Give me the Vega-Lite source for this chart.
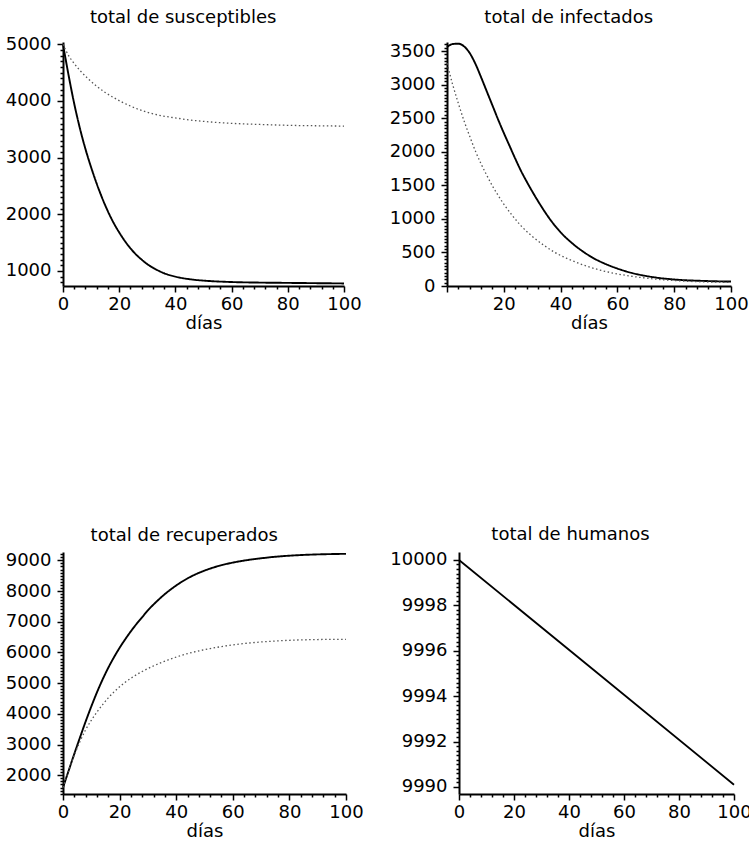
{
  "$schema": "https://vega.github.io/schema/vega-lite/v6.json",
  "background": "white",
  "padding": {"left": 5, "top": 9, "right": 5, "bottom": 5},
  "config": {
    "view": {"stroke": null},
    "axis": {"domainColor": "black", "domainWidth": 2, "tickColor": "black", "tickWidth": 1.5, "grid": false, "labelFont": "DejaVu Sans", "labelFontSize": 18, "labelColor": "black", "labelPadding": 3, "labelOverlap": false, "labelFlush": false, "titleFont": "DejaVu Sans", "titleFontSize": 18, "titleFontWeight": "normal", "titleColor": "black", "titlePadding": 1},
    "title": {"font": "DejaVu Sans", "fontSize": 18, "fontWeight": "normal", "color": "black", "anchor": "middle", "frame": "bounds"},
    "line": {"interpolate": "monotone"}
  },
  "datasets": {
    "sus": [
      {"t": 0, "v": 5000, "s": "a"}, {"t": 2, "v": 4450, "s": "a"}, {"t": 4, "v": 3950, "s": "a"}, {"t": 6, "v": 3520, "s": "a"}, {"t": 8, "v": 3150, "s": "a"}, {"t": 10, "v": 2830, "s": "a"}, {"t": 12, "v": 2540, "s": "a"}, {"t": 14, "v": 2280, "s": "a"}, {"t": 16, "v": 2050, "s": "a"}, {"t": 18, "v": 1850, "s": "a"}, {"t": 20, "v": 1680, "s": "a"}, {"t": 22, "v": 1530, "s": "a"}, {"t": 24, "v": 1400, "s": "a"}, {"t": 26, "v": 1290, "s": "a"}, {"t": 28, "v": 1200, "s": "a"}, {"t": 30, "v": 1120, "s": "a"}, {"t": 33, "v": 1030, "s": "a"}, {"t": 36, "v": 960, "s": "a"}, {"t": 40, "v": 900, "s": "a"}, {"t": 45, "v": 855, "s": "a"}, {"t": 50, "v": 830, "s": "a"}, {"t": 55, "v": 815, "s": "a"}, {"t": 60, "v": 805, "s": "a"}, {"t": 70, "v": 795, "s": "a"}, {"t": 80, "v": 790, "s": "a"}, {"t": 90, "v": 785, "s": "a"}, {"t": 100, "v": 780, "s": "a"},
      {"t": 0, "v": 5000, "s": "b"}, {"t": 2, "v": 4800, "s": "b"}, {"t": 4, "v": 4660, "s": "b"}, {"t": 6, "v": 4540, "s": "b"}, {"t": 9, "v": 4390, "s": "b"}, {"t": 12, "v": 4260, "s": "b"}, {"t": 15, "v": 4150, "s": "b"}, {"t": 18, "v": 4060, "s": "b"}, {"t": 21, "v": 3980, "s": "b"}, {"t": 24, "v": 3910, "s": "b"}, {"t": 27, "v": 3850, "s": "b"}, {"t": 30, "v": 3800, "s": "b"}, {"t": 35, "v": 3740, "s": "b"}, {"t": 40, "v": 3700, "s": "b"}, {"t": 45, "v": 3665, "s": "b"}, {"t": 50, "v": 3640, "s": "b"}, {"t": 55, "v": 3620, "s": "b"}, {"t": 60, "v": 3605, "s": "b"}, {"t": 70, "v": 3585, "s": "b"}, {"t": 80, "v": 3570, "s": "b"}, {"t": 90, "v": 3562, "s": "b"}, {"t": 100, "v": 3556, "s": "b"}
    ],
    "inf": [
      {"t": 0, "v": 3560, "s": "a"}, {"t": 2, "v": 3605, "s": "a"}, {"t": 4, "v": 3610, "s": "a"}, {"t": 6, "v": 3570, "s": "a"}, {"t": 8, "v": 3470, "s": "a"}, {"t": 10, "v": 3310, "s": "a"}, {"t": 12, "v": 3110, "s": "a"}, {"t": 14, "v": 2900, "s": "a"}, {"t": 16, "v": 2690, "s": "a"}, {"t": 18, "v": 2480, "s": "a"}, {"t": 20, "v": 2280, "s": "a"}, {"t": 22, "v": 2090, "s": "a"}, {"t": 24, "v": 1900, "s": "a"}, {"t": 26, "v": 1720, "s": "a"}, {"t": 28, "v": 1560, "s": "a"}, {"t": 30, "v": 1410, "s": "a"}, {"t": 33, "v": 1200, "s": "a"}, {"t": 36, "v": 1010, "s": "a"}, {"t": 40, "v": 800, "s": "a"}, {"t": 44, "v": 640, "s": "a"}, {"t": 48, "v": 510, "s": "a"}, {"t": 52, "v": 405, "s": "a"}, {"t": 56, "v": 325, "s": "a"}, {"t": 60, "v": 260, "s": "a"}, {"t": 65, "v": 195, "s": "a"}, {"t": 70, "v": 150, "s": "a"}, {"t": 75, "v": 118, "s": "a"}, {"t": 80, "v": 97, "s": "a"}, {"t": 85, "v": 84, "s": "a"}, {"t": 90, "v": 76, "s": "a"}, {"t": 95, "v": 70, "s": "a"}, {"t": 100, "v": 66, "s": "a"},
      {"t": 0, "v": 3320, "s": "b"}, {"t": 2, "v": 3000, "s": "b"}, {"t": 4, "v": 2720, "s": "b"}, {"t": 6, "v": 2460, "s": "b"}, {"t": 8, "v": 2230, "s": "b"}, {"t": 10, "v": 2010, "s": "b"}, {"t": 12, "v": 1820, "s": "b"}, {"t": 14, "v": 1650, "s": "b"}, {"t": 16, "v": 1490, "s": "b"}, {"t": 18, "v": 1350, "s": "b"}, {"t": 20, "v": 1220, "s": "b"}, {"t": 23, "v": 1050, "s": "b"}, {"t": 26, "v": 900, "s": "b"}, {"t": 30, "v": 740, "s": "b"}, {"t": 34, "v": 610, "s": "b"}, {"t": 38, "v": 500, "s": "b"}, {"t": 42, "v": 415, "s": "b"}, {"t": 46, "v": 345, "s": "b"}, {"t": 50, "v": 285, "s": "b"}, {"t": 55, "v": 225, "s": "b"}, {"t": 60, "v": 180, "s": "b"}, {"t": 65, "v": 145, "s": "b"}, {"t": 70, "v": 118, "s": "b"}, {"t": 75, "v": 97, "s": "b"}, {"t": 80, "v": 82, "s": "b"}, {"t": 85, "v": 70, "s": "b"}, {"t": 90, "v": 62, "s": "b"}, {"t": 95, "v": 57, "s": "b"}, {"t": 100, "v": 54, "s": "b"}
    ],
    "rec": [
      {"t": 0, "v": 1600, "s": "a"}, {"t": 2, "v": 2150, "s": "a"}, {"t": 4, "v": 2700, "s": "a"}, {"t": 6, "v": 3230, "s": "a"}, {"t": 8, "v": 3750, "s": "a"}, {"t": 10, "v": 4240, "s": "a"}, {"t": 12, "v": 4700, "s": "a"}, {"t": 14, "v": 5120, "s": "a"}, {"t": 16, "v": 5500, "s": "a"}, {"t": 18, "v": 5840, "s": "a"}, {"t": 20, "v": 6150, "s": "a"}, {"t": 22, "v": 6430, "s": "a"}, {"t": 24, "v": 6690, "s": "a"}, {"t": 26, "v": 6930, "s": "a"}, {"t": 28, "v": 7150, "s": "a"}, {"t": 30, "v": 7370, "s": "a"}, {"t": 33, "v": 7650, "s": "a"}, {"t": 36, "v": 7900, "s": "a"}, {"t": 40, "v": 8180, "s": "a"}, {"t": 44, "v": 8410, "s": "a"}, {"t": 48, "v": 8590, "s": "a"}, {"t": 52, "v": 8730, "s": "a"}, {"t": 56, "v": 8840, "s": "a"}, {"t": 60, "v": 8925, "s": "a"}, {"t": 65, "v": 9005, "s": "a"}, {"t": 70, "v": 9065, "s": "a"}, {"t": 75, "v": 9115, "s": "a"}, {"t": 80, "v": 9150, "s": "a"}, {"t": 85, "v": 9175, "s": "a"}, {"t": 90, "v": 9192, "s": "a"}, {"t": 95, "v": 9203, "s": "a"}, {"t": 100, "v": 9210, "s": "a"},
      {"t": 0, "v": 1600, "s": "b"}, {"t": 2, "v": 2150, "s": "b"}, {"t": 4, "v": 2660, "s": "b"}, {"t": 6, "v": 3100, "s": "b"}, {"t": 8, "v": 3480, "s": "b"}, {"t": 10, "v": 3790, "s": "b"}, {"t": 12, "v": 4060, "s": "b"}, {"t": 14, "v": 4300, "s": "b"}, {"t": 16, "v": 4520, "s": "b"}, {"t": 18, "v": 4710, "s": "b"}, {"t": 20, "v": 4880, "s": "b"}, {"t": 22, "v": 5030, "s": "b"}, {"t": 25, "v": 5220, "s": "b"}, {"t": 28, "v": 5380, "s": "b"}, {"t": 31, "v": 5520, "s": "b"}, {"t": 34, "v": 5640, "s": "b"}, {"t": 37, "v": 5750, "s": "b"}, {"t": 40, "v": 5850, "s": "b"}, {"t": 44, "v": 5960, "s": "b"}, {"t": 48, "v": 6050, "s": "b"}, {"t": 52, "v": 6125, "s": "b"}, {"t": 56, "v": 6190, "s": "b"}, {"t": 60, "v": 6245, "s": "b"}, {"t": 65, "v": 6300, "s": "b"}, {"t": 70, "v": 6340, "s": "b"}, {"t": 75, "v": 6372, "s": "b"}, {"t": 80, "v": 6395, "s": "b"}, {"t": 85, "v": 6410, "s": "b"}, {"t": 90, "v": 6420, "s": "b"}, {"t": 95, "v": 6425, "s": "b"}, {"t": 100, "v": 6428, "s": "b"}
    ],
    "hum": [
      {"t": 0, "v": 10000, "s": "a"}, {"t": 50, "v": 9995.05, "s": "a"}, {"t": 100, "v": 9990.1, "s": "a"}
    ]
  },
  "vconcat": [
    {
      "hconcat": [
        {
          "width": 281, "height": 244,
          "title": {"text": "total de susceptibles", "offset": 8},
          "data": {"name": "sus"},
          "mark": {"type": "line"},
          "encoding": {
            "x": {"field": "t", "type": "quantitative", "scale": {"domain": [0, 100], "nice": false}, "axis": {"title": "días", "values": [0,4,8,12,16,20,24,28,32,36,40,44,48,52,56,60,64,68,72,76,80,84,88,92,96,100], "format": "d", "labelExpr": "datum.value % 20 === 0 ? datum.label : ''", "tickSize": {"condition": {"test": "datum.value % 20 === 0", "value": 6}, "value": 3}}},
            "y": {"field": "v", "type": "quantitative", "scale": {"domain": [735, 5040], "nice": false, "zero": false}, "axis": {"title": null, "labelPadding": 6, "minExtent": 57, "maxExtent": 57, "format": "d", "values": [800,900,1000,1100,1200,1300,1400,1500,1600,1700,1800,1900,2000,2100,2200,2300,2400,2500,2600,2700,2800,2900,3000,3100,3200,3300,3400,3500,3600,3700,3800,3900,4000,4100,4200,4300,4400,4500,4600,4700,4800,4900,5000], "labelExpr": "datum.value % 1000 === 0 ? datum.label : ''", "tickSize": {"condition": {"test": "datum.value % 1000 === 0", "value": 6}, "value": 3}}},
            "color": {"field": "s", "type": "nominal", "scale": {"domain": ["a", "b"], "range": ["black", "#555555"]}, "legend": null},
            "strokeDash": {"field": "s", "type": "nominal", "scale": {"domain": ["a", "b"], "range": [[1, 0], [1.5, 2.5]]}, "legend": null},
            "strokeWidth": {"field": "s", "type": "nominal", "scale": {"domain": ["a", "b"], "range": [1.9, 1.3]}, "legend": null}
          }
        },
        {
          "width": 284, "height": 244,
          "title": {"text": "total de infectados", "offset": 8},
          "data": {"name": "inf"},
          "mark": {"type": "line"},
          "encoding": {
            "x": {"field": "t", "type": "quantitative", "scale": {"domain": [0, 100], "nice": false}, "axis": {"title": "días", "values": [0,4,8,12,16,20,24,28,32,36,40,44,48,52,56,60,64,68,72,76,80,84,88,92,96,100], "format": "d", "labelExpr": "datum.value % 20 === 0 && datum.value > 0 ? datum.label : ''", "tickSize": {"condition": {"test": "datum.value % 20 === 0", "value": 6}, "value": 3}}},
            "y": {"field": "v", "type": "quantitative", "scale": {"domain": [0, 3635], "nice": false, "zero": false}, "axis": {"title": null, "labelPadding": 6, "format": "d", "values": [0,50,100,150,200,250,300,350,400,450,500,550,600,650,700,750,800,850,900,950,1000,1050,1100,1150,1200,1250,1300,1350,1400,1450,1500,1550,1600,1650,1700,1750,1800,1850,1900,1950,2000,2050,2100,2150,2200,2250,2300,2350,2400,2450,2500,2550,2600,2650,2700,2750,2800,2850,2900,2950,3000,3050,3100,3150,3200,3250,3300,3350,3400,3450,3500,3550,3600], "labelExpr": "datum.value % 500 === 0 ? datum.label : ''", "tickSize": {"condition": {"test": "datum.value % 500 === 0", "value": 6}, "value": 3}}},
            "color": {"field": "s", "type": "nominal", "scale": {"domain": ["a", "b"], "range": ["black", "#555555"]}, "legend": null},
            "strokeDash": {"field": "s", "type": "nominal", "scale": {"domain": ["a", "b"], "range": [[1, 0], [1.5, 2.5]]}, "legend": null},
            "strokeWidth": {"field": "s", "type": "nominal", "scale": {"domain": ["a", "b"], "range": [1.9, 1.3]}, "legend": null}
          }
        }
      ],
      "spacing": 103,
      "bounds": "flush"
    },
    {
      "hconcat": [
        {
          "width": 283, "height": 242,
          "title": {"text": "total de recuperados", "offset": 0},
          "data": {"name": "rec"},
          "mark": {"type": "line"},
          "encoding": {
            "x": {"field": "t", "type": "quantitative", "scale": {"domain": [0, 100], "nice": false}, "axis": {"title": "días", "values": [0,4,8,12,16,20,24,28,32,36,40,44,48,52,56,60,64,68,72,76,80,84,88,92,96,100], "format": "d", "labelExpr": "datum.value % 20 === 0 ? datum.label : ''", "tickSize": {"condition": {"test": "datum.value % 20 === 0", "value": 6}, "value": 3}}},
            "y": {"field": "v", "type": "quantitative", "scale": {"domain": [1390, 9270], "nice": false, "zero": false}, "axis": {"title": null, "labelPadding": 6, "minExtent": 57, "maxExtent": 57, "format": "d", "values": [1400,1500,1600,1700,1800,1900,2000,2100,2200,2300,2400,2500,2600,2700,2800,2900,3000,3100,3200,3300,3400,3500,3600,3700,3800,3900,4000,4100,4200,4300,4400,4500,4600,4700,4800,4900,5000,5100,5200,5300,5400,5500,5600,5700,5800,5900,6000,6100,6200,6300,6400,6500,6600,6700,6800,6900,7000,7100,7200,7300,7400,7500,7600,7700,7800,7900,8000,8100,8200,8300,8400,8500,8600,8700,8800,8900,9000,9100,9200], "labelExpr": "datum.value % 1000 === 0 ? datum.label : ''", "tickSize": {"condition": {"test": "datum.value % 1000 === 0", "value": 6}, "value": 3}}},
            "color": {"field": "s", "type": "nominal", "scale": {"domain": ["a", "b"], "range": ["black", "#555555"]}, "legend": null},
            "strokeDash": {"field": "s", "type": "nominal", "scale": {"domain": ["a", "b"], "range": [[1, 0], [1.5, 2.5]]}, "legend": null},
            "strokeWidth": {"field": "s", "type": "nominal", "scale": {"domain": ["a", "b"], "range": [1.9, 1.3]}, "legend": null}
          }
        },
        {
          "width": 275, "height": 242,
          "title": {"text": "total de humanos", "offset": 7},
          "data": {"name": "hum"},
          "mark": {"type": "line", "interpolate": "linear", "color": "black", "strokeWidth": 1.8},
          "encoding": {
            "x": {"field": "t", "type": "quantitative", "scale": {"domain": [0, 100], "nice": false}, "axis": {"title": "días", "values": [0,4,8,12,16,20,24,28,32,36,40,44,48,52,56,60,64,68,72,76,80,84,88,92,96,100], "format": "d", "labelExpr": "datum.value % 20 === 0 ? datum.label : ''", "tickSize": {"condition": {"test": "datum.value % 20 === 0", "value": 6}, "value": 3}}},
            "y": {"field": "v", "type": "quantitative", "scale": {"domain": [9989.69, 10000.35], "nice": false, "zero": false}, "axis": {"title": null, "labelPadding": 6, "tickMinStep": 0.01, "tickCount": 500, "values": [9990,9990.2,9990.4,9990.6,9990.8,9991,9991.2,9991.4,9991.6,9991.8,9992,9992.2,9992.4,9992.6,9992.8,9993,9993.2,9993.4,9993.6,9993.8,9994,9994.2,9994.4,9994.6,9994.8,9995,9995.2,9995.4,9995.6,9995.8,9996,9996.2,9996.4,9996.6,9996.8,9997,9997.2,9997.4,9997.6,9997.8,9998,9998.2,9998.4,9998.6,9998.8,9999,9999.2,9999.4,9999.6,9999.8,10000], "labelExpr": "indexof([9990, 9992, 9994, 9996, 9998, 10000], datum.value) >= 0 ? format(datum.value, 'd') : ''", "tickSize": {"condition": {"test": "indexof([9990, 9992, 9994, 9996, 9998, 10000], datum.value) >= 0", "value": 6}, "value": 3}}}
          }
        }
      ],
      "spacing": 113,
      "bounds": "flush"
    }
  ],
  "spacing": 193
}
